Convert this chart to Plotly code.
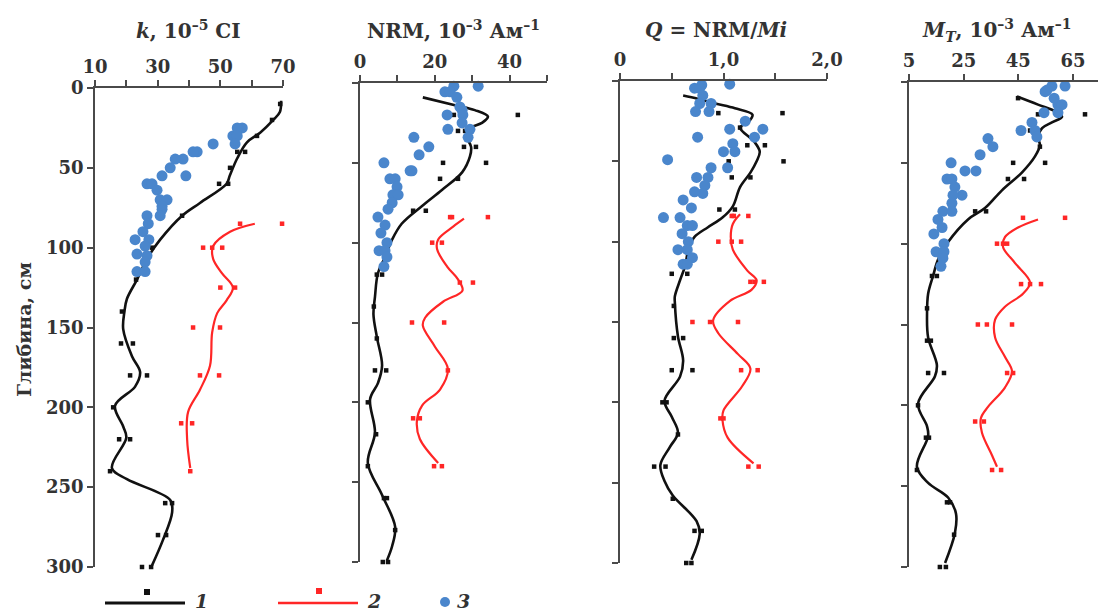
import plotly.graph_objects as go

# ---------------- DATA ----------------
# Panel 1: k, 10^-5 CI
k_pts_d = [10, 20, 30, 40, 40, 50, 60, 60, 80, 100, 120, 140, 160, 160, 180, 180, 200, 220, 220, 240, 260, 260, 280, 280, 300, 300]
k_pts_v = [69.1, 66.5, 61.7, 55.4, 57.9, 53.1, 49.6, 52.5, 37.8, 28.2, 23.1, 18.6, 18.3, 22.1, 21.2, 26.6, 15.8, 17.7, 21.2, 14.8, 32.4, 34.6, 30.1, 32.7, 25.0, 27.9]
k_curve_d = [8, 15, 20, 28, 34, 44, 55, 60, 72, 80, 95, 107, 120, 132, 140, 151, 168, 178, 187, 199, 212, 219, 238, 245, 258, 266, 283, 299]
k_curve_v = [69.4, 69.0, 66.9, 62.7, 58.5, 55.4, 53.0, 52.0, 43.5, 37.8, 30.8, 26.6, 23.4, 20.2, 19.4, 19.0, 21.8, 24.4, 22.8, 16.4, 19.0, 20.0, 15.4, 20.2, 34.0, 34.6, 31.7, 28.2]
k_red_d = [85, 85, 100, 100, 100, 125, 125, 150, 150, 180, 180, 210, 210, 240]
k_red_v = [56.3, 69.7, 44.5, 47.4, 50.6, 50.0, 54.7, 41.3, 49.9, 43.5, 49.6, 37.5, 41.0, 40.4]
k_redc_d = [85, 90, 99, 107, 116, 125, 133, 141, 153, 174, 189, 203, 220, 238]
k_redc_v = [61.0, 53.1, 47.7, 47.7, 50.5, 54.0, 52.0, 49.0, 47.4, 46.7, 43.5, 39.7, 39.4, 40.4]
k_blue_d = [25, 25, 30, 30, 35, 35, 40, 40, 44.5, 44.5, 50, 55, 55, 60, 60, 64, 70, 70, 74, 76, 80, 80, 85, 90, 95, 95, 99, 104, 105, 109, 115, 115]
k_blue_v = [57.0, 55.4, 54.0, 55.4, 54.7, 47.7, 42.6, 41.3, 38.1, 35.6, 34.0, 31.4, 39.0, 26.6, 28.2, 29.8, 30.8, 33.0, 31.4, 31.4, 30.8, 26.6, 27.0, 25.3, 22.8, 27.2, 26.0, 23.4, 26.6, 26.0, 23.4, 26.0]

# Panel 2: NRM, 10^-3 A/m
nrm_pts_d = [20, 20, 30, 30, 40, 40, 50, 50, 60, 60, 80, 80, 120, 120, 140, 160, 180, 180, 200, 220, 240, 260, 260, 280, 300, 300]
nrm_pts_v = [25.1, 42.2, 26.2, 28.1, 27.8, 31.0, 22.2, 33.7, 21.4, 26.2, 14.2, 17.6, 4.5, 5.9, 3.7, 4.5, 4.0, 7.0, 2.1, 4.3, 2.1, 6.4, 7.2, 9.4, 6.1, 7.5]
nrm_curve_d = [9, 14, 17, 21, 25, 29, 34, 40, 46, 56, 67, 77, 88, 98, 109, 119, 134, 145, 159, 177, 188, 198, 219, 238, 258, 278, 290, 299]
nrm_curve_v = [16.8, 25.4, 30.7, 34.2, 32.6, 28.9, 28.6, 29.7, 29.4, 27.3, 21.9, 16.6, 11.2, 8.6, 6.7, 4.8, 4.0, 3.6, 4.5, 5.9, 4.8, 2.7, 4.0, 2.1, 5.9, 9.4, 8.6, 7.2]
nrm_red_d = [84, 84, 84, 100, 100, 125, 125, 150, 150, 180, 210, 210, 240, 240]
nrm_red_v = [24.1, 24.6, 34.2, 19.3, 21.9, 26.7, 30.2, 13.9, 22.5, 23.5, 14.2, 16.0, 19.8, 21.9]
nrm_redc_d = [85, 90, 98, 104, 115, 123, 130, 137, 147, 152, 165, 179, 192, 202, 212, 223, 238]
nrm_redc_v = [27.8, 24.9, 20.9, 20.6, 23.3, 26.2, 27.4, 22.2, 17.4, 16.8, 20.0, 23.5, 21.4, 16.6, 15.2, 16.0, 20.9]
nrm_blue_d = [2, 2, 5.5, 5.5, 9, 15, 17, 20, 20, 25, 29, 29, 34, 34, 40, 45, 50, 55, 55, 60, 60, 65, 70, 70, 75, 79, 84, 89, 94, 100, 105, 105, 109, 115]
nrm_blue_v = [25.1, 31.6, 22.7, 24.1, 25.9, 26.7, 27.3, 27.5, 23.3, 27.3, 29.4, 23.5, 28.9, 14.4, 18.4, 15.8, 6.4, 13.4, 13.9, 8.0, 9.4, 9.9, 8.8, 10.2, 8.6, 7.5, 4.8, 6.7, 5.6, 7.2, 5.1, 6.7, 7.2, 6.4]

# Panel 3: Q = NRM/Mi
q_pts_d = [20, 20, 29, 40, 40, 50, 50, 60, 60, 80, 80, 120, 120, 140, 160, 160, 180, 180, 200, 200, 220, 240, 240, 260, 280, 280, 300, 300]
q_pts_v = [0.95, 1.57, 1.16, 1.23, 1.40, 1.05, 1.58, 1.08, 1.26, 0.96, 1.11, 0.50, 0.65, 0.52, 0.52, 0.61, 0.50, 0.70, 0.41, 0.45, 0.56, 0.33, 0.44, 0.51, 0.72, 0.79, 0.64, 0.69]
q_curve_d = [9, 11, 14, 17, 21, 25.5, 29, 38, 44, 50, 57, 66, 78, 85, 91, 97, 105, 115, 124, 134, 138, 159, 174, 184, 199, 209, 219, 228, 239, 249, 258, 274, 282, 298]
q_curve_v = [0.61, 0.75, 0.92, 1.11, 1.28, 1.24, 1.16, 1.30, 1.35, 1.32, 1.26, 1.16, 1.09, 0.99, 0.85, 0.72, 0.66, 0.63, 0.58, 0.53, 0.53, 0.56, 0.61, 0.58, 0.43, 0.50, 0.56, 0.48, 0.39, 0.43, 0.51, 0.74, 0.77, 0.69]
q_red_d = [84, 84, 84, 100, 100, 100, 125, 125, 125, 150, 150, 150, 180, 180, 210, 210, 240, 240]
q_red_v = [1.08, 1.10, 1.24, 0.95, 1.08, 1.17, 1.26, 1.30, 1.39, 0.70, 0.87, 1.14, 1.17, 1.33, 0.97, 1.00, 1.24, 1.34]
q_redc_d = [83, 89, 97, 105, 118, 124, 130, 137, 149, 157, 170, 179, 190, 205, 211, 222, 238]
q_redc_v = [1.16, 1.09, 1.07, 1.09, 1.23, 1.32, 1.27, 1.06, 0.90, 0.95, 1.14, 1.26, 1.18, 1.00, 0.99, 1.04, 1.29]
q_blue_d = [2.5, 2, 4.5, 4.5, 9, 14, 14, 19, 19, 25, 30, 30, 35, 35, 39, 44, 44, 49, 54, 54, 60, 60, 65, 70, 69, 74, 79, 85, 85, 90, 90, 95, 100, 105, 105, 110, 114, 114]
q_blue_v = [0.79, 1.06, 0.72, 0.77, 0.80, 0.77, 0.88, 0.73, 0.86, 1.21, 1.06, 1.38, 1.30, 0.75, 1.09, 1.11, 1.00, 0.46, 1.04, 0.88, 0.85, 0.74, 0.82, 0.80, 0.72, 0.61, 0.69, 0.42, 0.58, 0.65, 0.70, 0.60, 0.66, 0.56, 0.65, 0.70, 0.61, 0.65]

# Panel 4: M_T, 10^-3 A/m
mt_pts_d = [10, 20, 20, 30, 40, 50, 50, 60, 60, 80, 80, 120, 120, 140, 160, 160, 180, 180, 200, 220, 220, 240, 260, 260, 280, 300, 300]
mt_pts_v = [44.9, 52.2, 69.4, 49.3, 52.9, 43.1, 54.8, 41.2, 47.1, 29.2, 33.2, 13.4, 15.2, 11.6, 11.6, 13.0, 12.0, 17.8, 8.3, 11.2, 12.3, 7.9, 18.9, 20.0, 21.5, 16.3, 18.5]
mt_curve_d = [9, 14, 19, 21.5, 25, 28.5, 34, 39, 46, 56, 67, 78, 85, 99, 110, 120, 131, 143, 158, 175, 182, 199, 213, 219, 238, 248, 257, 267, 279, 297.5]
mt_curve_v = [44.5, 52.2, 59.5, 61.0, 57.3, 53.7, 52.2, 52.9, 51.1, 46.3, 39.0, 32.8, 26.6, 19.3, 15.6, 13.8, 12.0, 11.6, 12.0, 15.2, 14.5, 8.3, 11.6, 12.0, 7.9, 12.0, 19.3, 22.2, 21.8, 18.2]
mt_red_d = [84, 84, 100, 100, 100, 125, 125, 125, 150, 150, 150, 180, 180, 210, 210, 240, 240]
mt_red_v = [46.7, 62.1, 37.2, 39.4, 40.9, 46.0, 49.3, 53.3, 30.2, 33.5, 42.7, 40.9, 43.1, 29.2, 32.4, 35.4, 38.7]
mt_redc_d = [85, 90, 96, 102, 112, 124, 131, 139, 147, 158, 170, 179, 189, 201, 208, 217, 231, 238]
mt_redc_v = [52.2, 44.9, 40.1, 39.4, 43.8, 49.3, 46.7, 40.1, 36.5, 36.5, 40.1, 42.7, 40.1, 33.9, 31.3, 31.7, 35.4, 37.2]
mt_blue_d = [2.5, 2.5, 5, 6, 10, 14, 14, 19, 19, 25, 30, 30, 34, 35, 40, 45, 50, 55, 55, 60, 60, 65, 70, 70, 75, 80, 80, 85, 90, 94, 100, 105, 105, 109, 114]
mt_blue_v = [62.1, 57.3, 55.5, 54.8, 58.1, 59.5, 61.0, 54.4, 59.5, 50.0, 51.1, 46.0, 51.8, 33.9, 35.7, 31.0, 20.4, 25.5, 29.5, 18.9, 20.7, 21.8, 24.4, 21.1, 20.7, 17.4, 20.7, 15.6, 17.1, 14.1, 17.8, 14.9, 17.8, 17.4, 16.7]

panel_titles = ["<i>k</i>, 10<sup>–5</sup> CI",
                "NRM, 10<sup>–3</sup> Ам<sup>–1</sup>",
                "<i>Q</i> = NRM/<i>Mi</i>",
                "<i>M<sub>T</sub></i>, 10<sup>–3</sup> Ам<sup>–1</sup>"]
y_title = "Глибина, см"
depth_ticks = [0, 50, 100, 150, 200, 250, 300]
x_major_vals = [[10, 30, 50, 70], [0, 20, 40], [0, 1.0, 2.0], [5, 25, 45, 65]]
x_major_text = [["10", "30", "50", "70"], ["0", "20", "40"], ["0", "1,0", "2,0"], ["5", "25", "45", "65"]]
x_minor_vals = [[20, 40, 60], [10, 30, 50], [0.5, 1.5], []]
legend_labels = ["1", "2", "3"]

# ---------------- LAYOUT / STYLE ----------------
W, H = 1098, 612
def fx(px): return px / W
def fy(py): return 1 - py / H

BLACK = "#111111"
RED = "#ff2626"
BLUE = "#4a86cc"
AX = "#4a4a4a"
TXT = "#333333"
FONT = "DejaVu Serif"

panels = [
    dict(xpx=(95, 283), ypx=(88, 567), xr=[10, 70], title_x=188,
         data=(k_curve_d, k_curve_v, k_redc_d, k_redc_v, k_pts_d, k_pts_v, k_red_d, k_red_v, k_blue_d, k_blue_v)),
    dict(xpx=(360, 547), ypx=(83, 562), xr=[0, 50], title_x=453,
         data=(nrm_curve_d, nrm_curve_v, nrm_redc_d, nrm_redc_v, nrm_pts_d, nrm_pts_v, nrm_red_d, nrm_red_v, nrm_blue_d, nrm_blue_v)),
    dict(xpx=(620, 827), ypx=(81, 563), xr=[0, 2.0], title_x=716,
         data=(q_curve_d, q_curve_v, q_redc_d, q_redc_v, q_pts_d, q_pts_v, q_red_d, q_red_v, q_blue_d, q_blue_v)),
    dict(xpx=(909, 1098), ypx=(82, 567), xr=[5, 5 + 189 / 2.733], title_x=996,
         data=(mt_curve_d, mt_curve_v, mt_redc_d, mt_redc_v, mt_pts_d, mt_pts_v, mt_red_d, mt_red_v, mt_blue_d, mt_blue_v)),
]

fig = go.Figure()
layout = dict(width=W, height=H, margin=dict(l=0, r=0, t=0, b=0),
              plot_bgcolor="white", paper_bgcolor="white", showlegend=False,
              font=dict(family=FONT, color=TXT, size=18))
annotations = []
shapes = []

for i, p in enumerate(panels):
    n = "" if i == 0 else str(i + 1)
    xa, ya = "x" + n, "y" + n
    cd, cv, rcd, rcv, pd_, pv, rd, rv, bd, bv = p["data"]
    fig.add_trace(go.Scatter(x=cv, y=cd, mode="lines", line=dict(color=BLACK, width=2.6, shape="spline", smoothing=1.0),
                             xaxis=xa, yaxis=ya, cliponaxis=False))
    fig.add_trace(go.Scatter(x=rcv, y=rcd, mode="lines", line=dict(color=RED, width=2.2, shape="spline", smoothing=1.0),
                             xaxis=xa, yaxis=ya, cliponaxis=False))
    fig.add_trace(go.Scatter(x=pv, y=pd_, mode="markers", marker=dict(symbol="square", size=4.5, color=BLACK),
                             xaxis=xa, yaxis=ya, cliponaxis=False))
    fig.add_trace(go.Scatter(x=rv, y=rd, mode="markers", marker=dict(symbol="square", size=4.5, color=RED),
                             xaxis=xa, yaxis=ya, cliponaxis=False))
    fig.add_trace(go.Scatter(x=bv, y=bd, mode="markers", marker=dict(symbol="circle", size=11, color=BLUE),
                             xaxis=xa, yaxis=ya, cliponaxis=False))

    xaxis = dict(domain=[fx(p["xpx"][0]), fx(p["xpx"][1])], range=p["xr"], anchor=ya, side="top",
                 showline=True, linecolor=AX, linewidth=1.6, showgrid=False, zeroline=False,
                 ticks="outside", ticklen=6, tickwidth=1.5, tickcolor=AX,
                 tickmode="array", tickvals=x_major_vals[i], ticktext=x_major_text[i],
                 tickfont=dict(family=FONT, size=18, color=TXT, weight="bold"),
                 automargin=False, fixedrange=True)
    if x_minor_vals[i]:
        xaxis["minor"] = dict(tickmode="array", tickvals=x_minor_vals[i], ticks="outside", ticklen=6,
                              tickwidth=1.5, tickcolor=AX, showgrid=False)
    layout["xaxis" + n] = xaxis
    layout["yaxis" + n] = dict(domain=[fy(p["ypx"][1]), fy(p["ypx"][0])], range=[300, 0], anchor=xa,
                               showline=True, linecolor=AX, linewidth=1.6, showgrid=False, zeroline=False,
                               ticks="outside", ticklen=6, tickwidth=1.5, tickcolor=AX,
                               tickmode="array", tickvals=depth_ticks, showticklabels=(i == 0),
                               tickfont=dict(family=FONT, size=18, color=TXT, weight="bold"),
                               automargin=False, fixedrange=True)
    annotations.append(dict(text=panel_titles[i], x=fx(p["title_x"]), y=fy(30), xref="paper", yref="paper",
                            xanchor="center", yanchor="middle", showarrow=False,
                            font=dict(family=FONT, size=20, color=TXT, weight="bold")))

annotations.append(dict(text=y_title, x=fx(24), y=fy(330), xref="paper", yref="paper", textangle=-90,
                        xanchor="center", yanchor="middle", showarrow=False,
                        font=dict(family=FONT, size=19, color=TXT, weight="bold")))

# legend (drawn)
shapes.append(dict(type="line", xref="paper", yref="paper", x0=fx(105), x1=fx(185), y0=fy(603), y1=fy(603),
                   line=dict(color=BLACK, width=3)))
shapes.append(dict(type="rect", xref="paper", yref="paper", x0=fx(144), x1=fx(150), y0=fy(595), y1=fy(589),
                   line=dict(width=0), fillcolor=BLACK))
shapes.append(dict(type="line", xref="paper", yref="paper", x0=fx(278), x1=fx(358), y0=fy(603), y1=fy(603),
                   line=dict(color=RED, width=2.5)))
shapes.append(dict(type="rect", xref="paper", yref="paper", x0=fx(316), x1=fx(322), y0=fy(594), y1=fy(588),
                   line=dict(width=0), fillcolor=RED))
shapes.append(dict(type="circle", xref="paper", yref="paper", x0=fx(440), x1=fx(450), y0=fy(607), y1=fy(597),
                   line=dict(width=0), fillcolor=BLUE))
for lbl, xp in zip(legend_labels, [201, 374, 463]):
    annotations.append(dict(text="<i>" + lbl + "</i>", x=fx(xp), y=fy(601), xref="paper", yref="paper",
                            xanchor="center", yanchor="middle", showarrow=False,
                            font=dict(family=FONT, size=19, color=TXT, weight="bold")))

layout["annotations"] = annotations
layout["shapes"] = shapes
fig.update_layout(**layout)
fig.write_html("out.html", config={"displayModeBar": False},
               post_script="document.body.style.margin='0';document.body.style.overflow='hidden';")
